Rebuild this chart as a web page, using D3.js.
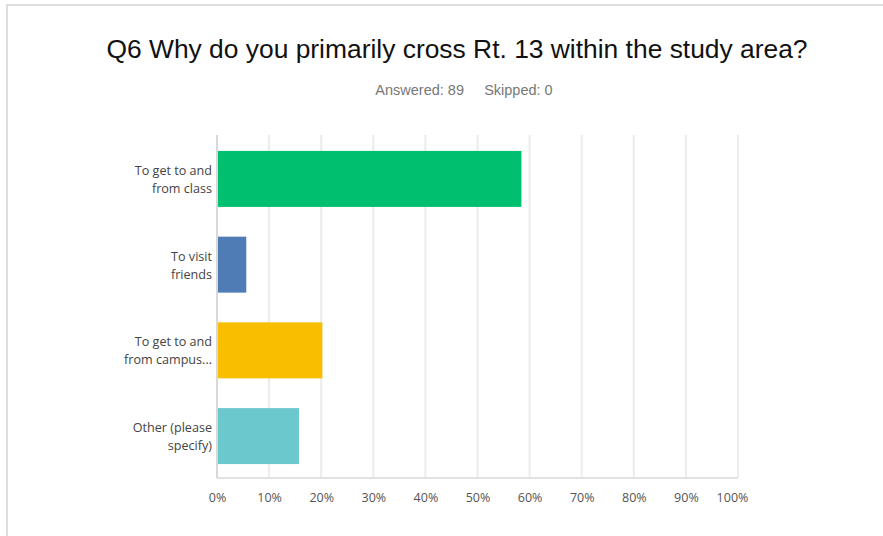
<!DOCTYPE html>
<html>
<head>
<meta charset="utf-8">
<script src="https://cdn.jsdelivr.net/npm/d3@7"></script>
<style>
  body { margin: 0; background: #fff; }
  .axis text { font-family: "Open Sans", sans-serif; font-size: 12.5px; fill: #555; }
  .cat { font-family: "Open Sans", sans-serif; font-size: 12.6px; fill: #444; }
</style>
</head>
<body>
<script>
var categories = [
  ["To get to and", "from class"],
  ["To visit", "friends"],
  ["To get to and", "from campus..."],
  ["Other (please", "specify)"]
];
var values = [58.43, 5.62, 20.22, 15.73];
var colors = ["#00bf6f", "#507cb6", "#f9be00", "#6bc8cd"];
var ticks = [0, 10, 20, 30, 40, 50, 60, 70, 80, 90, 100];

var width = 883, height = 536;
var plot = { left: 217, right: 738, top: 135, bottom: 478 };

var svg = d3.select("body").append("svg")
  .attr("width", width).attr("height", height);

// frame
svg.append("path")
  .attr("d", "M7," + height + "V5H" + width)
  .attr("fill", "none")
  .attr("stroke", "#dedede")
  .attr("stroke-width", 2);

svg.append("text")
  .attr("x", 457).attr("y", 58)
  .attr("text-anchor", "middle")
  .style("font-family", "'Liberation Sans', Arial, sans-serif")
  .style("font-size", "26.4px")
  .style("fill", "#111")
  .text("Q6 Why do you primarily cross Rt. 13 within the study area?");

svg.append("text")
  .attr("x", 464).attr("y", 95)
  .attr("text-anchor", "middle")
  .style("font-family", "'Liberation Sans', Arial, sans-serif")
  .style("font-size", "14.5px")
  .style("fill", "#777")
  .attr("xml:space", "preserve")
  .text("Answered: 89     Skipped: 0");

var x = d3.scaleLinear().domain([0, 100]).range([plot.left, plot.right]);
var y = d3.scaleBand().domain(d3.range(categories.length))
  .range([plot.top, plot.bottom]).paddingInner(0.347).paddingOuter(0.174);

// grid
svg.append("g").selectAll("line")
  .data(ticks.slice(1))
  .enter().append("line")
  .attr("x1", function(d) { return x(d); })
  .attr("x2", function(d) { return x(d); })
  .attr("y1", plot.top).attr("y2", plot.bottom)
  .attr("stroke", "#ececec").attr("stroke-width", 2);

svg.append("line")
  .attr("x1", plot.left).attr("x2", plot.right)
  .attr("y1", plot.bottom).attr("y2", plot.bottom)
  .attr("stroke", "#e2e2e2").attr("stroke-width", 2);

svg.append("line")
  .attr("x1", plot.left).attr("x2", plot.left)
  .attr("y1", plot.top).attr("y2", plot.bottom)
  .attr("stroke", "#d8d8d8").attr("stroke-width", 2);

// bars
svg.append("g").selectAll("rect")
  .data(values)
  .enter().append("rect")
  .attr("x", x(0) + 1)
  .attr("y", function(d, i) { return y(i) + 1; })
  .attr("width", function(d) { return x(d) - x(0) - 1; })
  .attr("height", y.bandwidth())
  .attr("fill", function(d, i) { return colors[i]; });

// category labels
var cat = svg.append("g").selectAll("text")
  .data(categories)
  .enter().append("text")
  .attr("class", "cat")
  .attr("text-anchor", "end")
  .attr("x", 212)
  .attr("y", function(d, i) { return y(i) + y.bandwidth() / 2 - 9 + 6; });
cat.selectAll("tspan")
  .data(function(d) { return d; })
  .enter().append("tspan")
  .attr("x", 212)
  .attr("dy", function(d, j) { return j ? 18 : 0; })
  .text(function(d) { return d; });

// x axis
var xAxis = d3.axisBottom(x)
  .tickValues(ticks)
  .tickSize(0)
  .tickPadding(15)
  .tickFormat(function(d) { return d + "%"; });
svg.append("g")
  .attr("class", "axis")
  .attr("transform", "translate(0," + plot.bottom + ")")
  .call(xAxis)
  .call(function(g) { g.select(".domain").remove(); })
  .call(function(g) {
    // last label is pulled in so it stays inside the chart
    g.selectAll(".tick text").filter(function(d) { return d === 100; })
      .attr("dx", -6);
  });
</script>
</body>
</html>
